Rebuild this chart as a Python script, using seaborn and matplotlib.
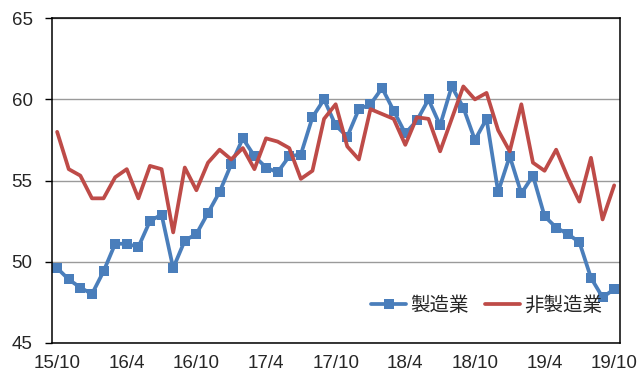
import matplotlib
matplotlib.use("Agg")
import matplotlib.pyplot as plt
import numpy as np
import pandas as pd
import seaborn as sns

# Monthly PMI, Oct 2015 - Oct 2019
months = pd.period_range("2015-10", "2019-10", freq="M")
month_labels = [f"{p.year % 100}/{p.month}" for p in months]

manufacturing = [
    49.6, 48.9, 48.4, 48.0, 49.4, 51.1, 51.1, 50.9, 52.5, 52.9,
    49.6, 51.3, 51.7, 53.0, 54.3, 56.0, 57.6, 56.5, 55.8, 55.5,
    56.5, 56.6, 58.9, 60.0, 58.4, 57.7, 59.4, 59.7, 60.7, 59.3,
    57.9, 58.7, 60.0, 58.4, 60.8, 59.5, 57.5, 58.8, 54.3, 56.5,
    54.2, 55.3, 52.8, 52.1, 51.7, 51.2, 49.0, 47.8, 48.3,
]
non_manufacturing = [
    58.0, 55.7, 55.3, 53.9, 53.9, 55.2, 55.7, 53.9, 55.9, 55.7,
    51.8, 55.8, 54.4, 56.1, 56.9, 56.3, 57.0, 55.7, 57.6, 57.4,
    57.0, 55.1, 55.6, 58.8, 59.7, 57.1, 56.3, 59.4, 59.1, 58.8,
    57.2, 58.9, 58.8, 56.8, 58.8, 60.8, 60.0, 60.4, 58.1, 56.8,
    59.7, 56.1, 55.6, 56.9, 55.2, 53.7, 56.4, 52.6, 54.7,
]
series_names = ["製造業", "非製造業"]
y_ticks = [45, 50, 55, 60, 65]

df = pd.DataFrame({
    "idx": np.arange(len(months)),
    series_names[0]: manufacturing,
    series_names[1]: non_manufacturing,
})

sns.set_theme(style="white")
plt.rcParams["font.family"] = ["Liberation Sans", "Noto Sans CJK JP", "DejaVu Sans"]

fig = plt.figure(figsize=(6.4, 3.75), dpi=100)
ax = fig.add_axes([0.0813, 0.0861, 0.8867, 0.8651])

blue = "#4A7EBB"
red = "#BE4B48"

sns.lineplot(data=df, x="idx", y=series_names[0], ax=ax, color=blue,
             linewidth=2.7, marker="s", markersize=6.8, markeredgewidth=0,
             label=series_names[0])
sns.lineplot(data=df, x="idx", y=series_names[1], ax=ax, color=red,
             linewidth=2.7, label=series_names[1])

ax.set_xlim(-0.44, len(months) - 1 + 0.46)
ax.set_ylim(45, 65)
ax.set_yticks(y_ticks)
ax.set_yticklabels([str(v) for v in y_ticks])
xt = list(range(0, len(months), 6))
ax.set_xticks(xt)
ax.set_xticklabels([month_labels[i] for i in xt])
ax.set_xlabel("")
ax.set_ylabel("")

ax.yaxis.grid(True, color="#9a9a9a", linewidth=1.0)
ax.set_axisbelow(True)
ax.tick_params(axis="y", direction="out", length=5, width=1.0, color="black",
               pad=9, labelsize=13.5, left=True)
ax.tick_params(axis="x", length=0, pad=9, labelsize=13.5)
for s in ax.spines.values():
    s.set_visible(True)
    s.set_color("black")
    s.set_linewidth(1.1)

leg = ax.legend(loc="center right", bbox_to_anchor=(0.986, 0.116), ncol=2,
                frameon=False, borderpad=0, handlelength=1.8,
                handletextpad=0.2, columnspacing=0.85,
                prop={"family": ["Noto Sans CJK JP"], "size": 14})

fig.savefig("out.png", dpi=100)
